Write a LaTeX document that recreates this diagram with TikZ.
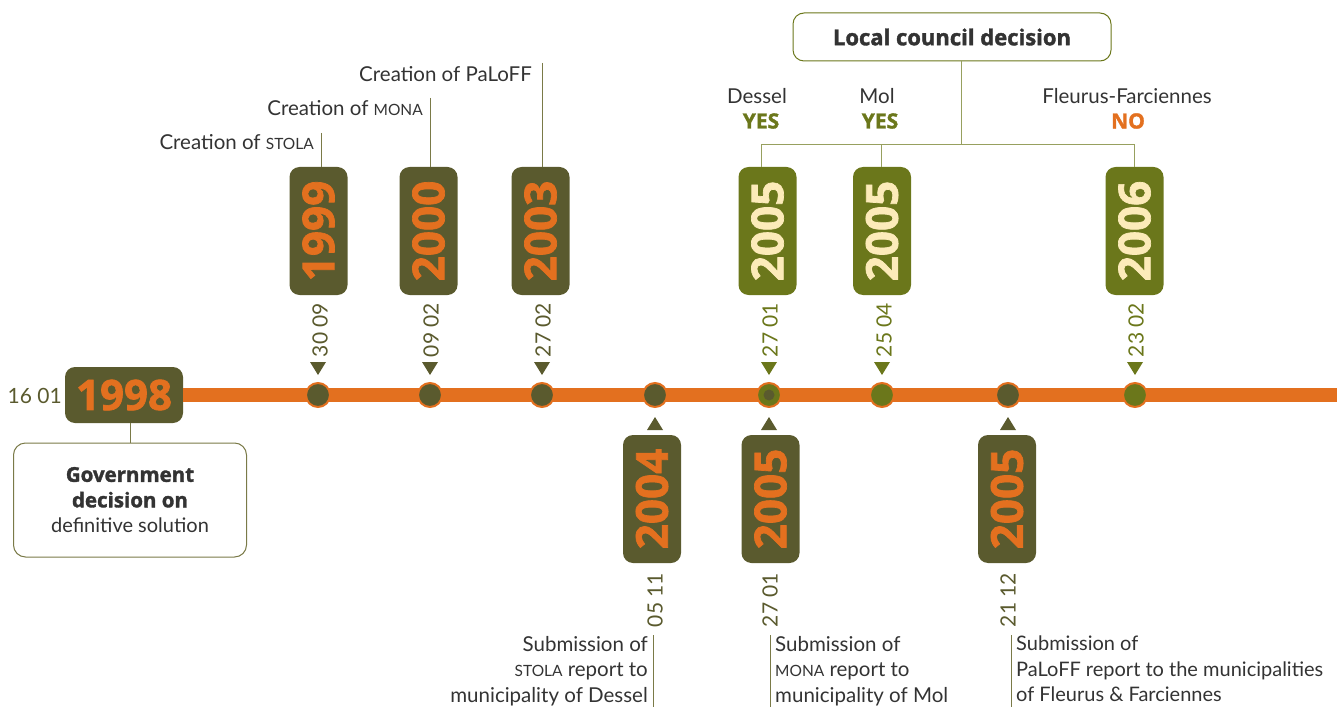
\documentclass[tikz,border=0pt]{standalone}
\usepackage{fontspec}
\setmainfont{Lato}
\newfontfamily\heavyfont[BoldFeatures={FakeBold=1.6}]{Open Sans}
\definecolor{dolive}{HTML}{5A5A2E}
\definecolor{lgreen}{HTML}{6B771B}
\definecolor{orng}{HTML}{E3701F}
\definecolor{cream}{HTML}{FCEBB9}
\definecolor{txt}{HTML}{333333}
\definecolor{linec}{HTML}{7A7A48}
\newcommand\smc[1]{{\fontsize{15.5}{15}\selectfont #1}}
\newcommand\hv{\heavyfont\bfseries}
\begin{document}
\begin{tikzpicture}[x=1pt,y=-1pt,
  yearbox/.style={rounded corners=10pt, minimum width=128pt, minimum height=58pt, rotate=90, inner sep=0pt, font=\fontsize{44}{44}\selectfont\hv},
  darkbox/.style={yearbox, fill=dolive, text=orng},
  greenbox/.style={yearbox, fill=lgreen, text=cream},
  datelab/.style={rotate=90, inner sep=0pt, font=\fontsize{21}{21}\selectfont},
  dot/.style={circle, minimum size=24pt, inner sep=0pt, draw=orng, line width=2pt, fill=#1},
  conn/.style={draw=linec, line width=1pt},
  lab/.style={inner sep=0pt, text=txt, font=\fontsize{20.5}{25.5}\selectfont},
  rbox/.style={draw=linec, line width=1pt, rounded corners=12pt, fill=white},
  verdict/.style={inner sep=0pt, font=\fontsize{21}{21}\selectfont\hv}
]
\useasboundingbox (0,0) rectangle (1337,711);

% timeline
\node[rounded corners=10pt, fill=dolive, text=orng, minimum width=118pt, minimum height=56pt, inner sep=0pt, font=\fontsize{42}{42}\selectfont\hv] (y1998) at (124,395) {1998};
\coordinate (tend) at (1337,395);
\draw[orng, line width=14pt] (y1998.east) -- (tend);
\node[datelab, rotate=-90, text=dolive, anchor=east] (d1998) at (62,396) {16 01};

% government box
\node[rbox, minimum width=233pt, minimum height=114pt, align=center, text=txt, font=\fontsize{20.5}{25.5}\selectfont] (gov) at (130,500)
  {{\hv Government}\\{\hv decision on}\\{\fontsize{20}{25}\selectfont\rmfamily definitive solution}};
\draw[conn] (y1998.south -| gov.north) -- (gov.north);

% dots
\node[dot=dolive] (d1) at (318,395) {};
\node[dot=dolive] (d2) at (430,395) {};
\node[dot=dolive] (d3) at (542,395) {};
\node[dot=dolive] (d4) at (655,395) {};
\node[dot=lgreen] (d5) at (769,395) {};
\node[circle, fill=dolive, minimum size=11pt, inner sep=0pt] (d5i) at (d5) {};
\node[dot=lgreen] (d6) at (882,395) {};
\node[dot=dolive] (d7) at (1008,395) {};
\node[dot=lgreen] (d8) at (1135,395) {};

% down triangles (above)
\fill[dolive] (d1) ++(-8,-33) -- ++(16,0) -- ++(-8,13) -- cycle;
\fill[dolive] (d2) ++(-8,-33) -- ++(16,0) -- ++(-8,13) -- cycle;
\fill[dolive] (d3) ++(-8,-33) -- ++(16,0) -- ++(-8,13) -- cycle;
\fill[lgreen] (d5) ++(-8,-33) -- ++(16,0) -- ++(-8,13) -- cycle;
\fill[lgreen] (d6) ++(-8,-33) -- ++(16,0) -- ++(-8,13) -- cycle;
\fill[lgreen] (d8) ++(-8,-33) -- ++(16,0) -- ++(-8,13) -- cycle;
% up triangles (below)
\fill[dolive] (d4) ++(-8,35) -- ++(16,0) -- ++(-8,-13) -- cycle;
\fill[dolive] (d5) ++(-8,35) -- ++(16,0) -- ++(-8,-13) -- cycle;
\fill[dolive] (d7) ++(-8,35) -- ++(16,0) -- ++(-8,-13) -- cycle;

% upper year boxes
\node[darkbox] (y1999) at (318.5,231) {1999};
\node[darkbox] (y2000) at (428.5,231) {2000};
\node[darkbox] (y2003) at (540.5,231) {2003};
\node[greenbox] (y05a) at (767.5,231) {2005};
\node[greenbox] (y05b) at (882,231) {2005};
\node[greenbox] (y06) at (1134.5,231) {2006};

% upper dates
\node[datelab, text=dolive] at (320,330) {30 09};
\node[datelab, text=dolive] at (431,330) {09 02};
\node[datelab, text=dolive] at (543,330) {27 02};
\node[datelab, text=lgreen] at (770,330) {27 01};
\node[datelab, text=lgreen] at (884,330) {25 04};
\node[datelab, text=lgreen] at (1136,330) {23 02};

% lower year boxes
\node[darkbox] (y2004) at (652,499) {2004};
\node[darkbox] (y05c) at (770.5,499) {2005};
\node[darkbox] (y05d) at (1007,499) {2005};

% lower dates
\node[datelab, text=dolive] at (655,600) {05 11};
\node[datelab, text=dolive] at (770,600) {27 01};
\node[datelab, text=dolive] at (1008,600) {21 12};

% creation labels
\node[lab, anchor=east] (cstola) at (314,142) {Creation of \smc{STOLA}};
\node[lab, anchor=east] (cmona) at (423,108) {Creation of \smc{MONA}};
\node[lab, anchor=east] (cpal) at (532,74) {Creation of PaLoFF};
\coordinate (tstola) at (321,133);
\coordinate (tmona) at (430,98);
\coordinate (tpal) at (542,63);
\draw[conn] (tstola) -- (tstola |- y1999.east);
\draw[conn] (tmona) -- (tmona |- y2000.east);
\draw[conn] (tpal) -- (tpal |- y2003.east);

% local council
\node[rbox, draw=lgreen, rounded corners=11pt, minimum width=318pt, minimum height=48pt, inner sep=0pt, text=txt, font=\fontsize{22}{22}\selectfont\hv] (lc) at (952,37) {Local council decision};
\coordinate (lcj) at (961,145);
\coordinate (ba) at (761,145);
\coordinate (bb) at (881,145);
\coordinate (bc) at (1134,145);
\draw[conn, draw=lgreen!70!white] (lc.south -| lcj) -- (lcj);
\draw[conn, draw=lgreen!70!white] (ba |- y05a.east) -- (ba) -- (bc) -- (bc |- y06.east);
\draw[conn, draw=lgreen!70!white] (bb) -- (bb |- y05b.east);

\node[lab] (ldes) at (757,96) {Dessel};
\node[verdict, text=lgreen] (ydes) at (761,121) {YES};
\node[lab] (lmol) at (877,96) {Mol};
\node[verdict, text=lgreen] (ymol) at (880,121) {YES};
\node[lab] (lff) at (1127,96) {Fleurus-Farciennes};
\node[verdict, text=orng] (nff) at (1128,121) {NO};

% submission labels
\coordinate (s1) at (653,635);
\coordinate (s2) at (770,635);
\coordinate (s3) at (1011,635);
\draw[conn] (s1) -- ++(0,72);
\draw[conn] (s2) -- ++(0,72);
\draw[conn] (s3) -- ++(0,72);
\node[lab, anchor=north east, align=right] (sub1) at (648,636) {Submission of\\\smc{STOLA} report to\\municipality of Dessel};
\node[lab, anchor=north west, align=left] (sub2) at (775,636) {Submission of\\\smc{MONA} report to\\municipality of Mol};
\node[lab, anchor=north west, align=left, font=\fontsize{20}{25.5}\selectfont] (sub3) at (1016,636) {Submission of\\PaLoFF report to the municipalities\\of Fleurus \& Farciennes};
\end{tikzpicture}
\end{document}
